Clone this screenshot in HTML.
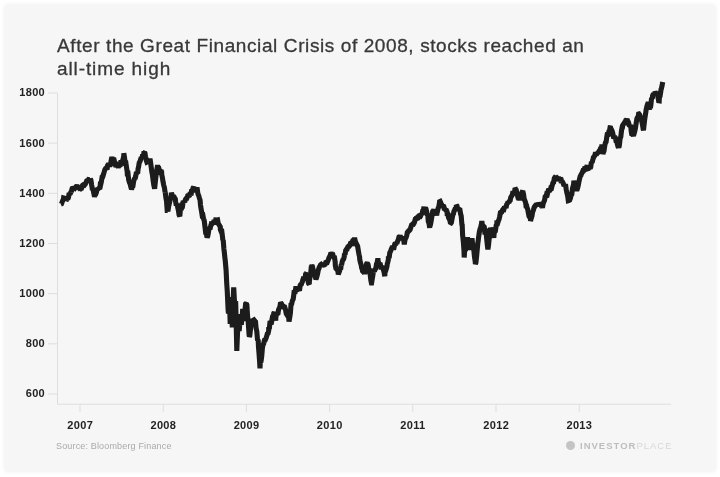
<!DOCTYPE html>
<html><head><meta charset="utf-8">
<style>
html,body{margin:0;padding:0;background:#fff;}
body{width:720px;height:477px;overflow:hidden;position:relative;font-family:"Liberation Sans",sans-serif;}
.blur{position:absolute;left:0;top:0;width:720px;height:477px;filter:blur(0.45px);}
.card{position:absolute;left:2.7px;top:3.4px;width:714.7px;height:469.8px;background:#f6f6f6;border-radius:6px;filter:blur(0.8px);}
.title{position:absolute;left:57px;top:33.6px;width:600px;font-size:19px;line-height:23.4px;color:#383838;-webkit-text-stroke:0.3px #383838;letter-spacing:0.6px;white-space:nowrap;}
.yl{position:absolute;left:0;width:45px;text-align:right;font-weight:bold;font-size:11px;line-height:12px;color:#222;letter-spacing:0.3px;}
.xl{position:absolute;width:40px;text-align:center;font-weight:bold;font-size:11px;line-height:12px;color:#222;top:419px;letter-spacing:0.35px;text-indent:0.35px;}
.src{position:absolute;left:56px;top:440.5px;font-size:9px;line-height:11px;color:#aaa;white-space:nowrap;letter-spacing:0.16px;}
.logo{position:absolute;left:580px;top:440.2px;font-size:9.5px;line-height:12px;font-weight:bold;color:#bdbdbd;letter-spacing:1.0px;white-space:nowrap;}
.logo span{font-weight:normal;color:#d8d8d8;}
.dot{position:absolute;left:565.5px;top:441.1px;width:9px;height:9px;border-radius:50%;background:#c4c4c4;}
svg{position:absolute;left:0;top:0;}
</style></head><body>
<div class="card"></div>
<div class="blur">
<div class="title">After the Great Financial Crisis of 2008, stocks reached an<br><span style="letter-spacing:0.9px">all-time high</span></div>
<svg width="720" height="477" viewBox="0 0 720 477">
<g stroke="#dedede" stroke-width="1" fill="none">
<path d="M57.5,92.7 V404.2 H671"/>
<path d="M48,93.0 H57"/>
<path d="M48,143.1 H57"/>
<path d="M48,193.3 H57"/>
<path d="M48,243.5 H57"/>
<path d="M48,293.6 H57"/>
<path d="M48,343.8 H57"/>
<path d="M48,394.0 H57"/>
<path d="M80.0,404 V412"/>
<path d="M163.2,404 V412"/>
<path d="M246.4,404 V412"/>
<path d="M329.6,404 V412"/>
<path d="M412.8,404 V412"/>
<path d="M496.0,404 V412"/>
<path d="M579.2,404 V412"/>
</g>
<path d="M60.8,204.1 L61.5,203.8 L62.2,201.8 L62.9,200.1 L63.4,199.6 L63.6,198.0 L64.3,198.2 L65.0,199.8 L65.7,199.1 L65.9,197.9 L66.4,200.0 L67.1,199.5 L67.6,198.7 L67.8,199.2 L68.5,197.3 L69.2,193.0 L69.9,194.1 L70.6,193.0 L71.0,191.2 L71.3,192.1 L72.0,188.8 L72.7,187.4 L73.4,188.0 L73.5,190.3 L74.1,188.0 L74.8,188.4 L75.5,187.4 L76.2,187.2 L76.5,186.1 L76.9,185.6 L77.6,186.7 L78.3,187.4 L79.0,186.3 L79.7,189.5 L80.4,189.1 L81.0,187.8 L81.1,189.9 L81.8,186.9 L82.5,185.3 L83.2,184.8 L83.9,184.5 L84.6,185.0 L85.3,184.2 L86.0,182.5 L86.1,182.8 L86.7,180.8 L87.4,180.3 L88.1,182.2 L88.8,179.6 L89.5,179.7 L90.2,179.6 L90.3,178.9 L90.9,180.0 L91.6,184.7 L92.3,188.7 L92.3,190.3 L93.0,189.1 L93.7,192.7 L94.4,196.0 L94.5,197.0 L95.1,194.1 L95.8,194.0 L96.5,192.0 L97.2,188.1 L97.8,188.7 L97.9,189.0 L98.6,188.5 L99.3,187.9 L100.0,187.6 L100.3,184.5 L100.7,184.6 L101.4,181.6 L102.1,177.1 L102.8,176.8 L103.5,173.5 L103.7,173.6 L104.2,171.9 L104.9,169.6 L105.6,168.4 L106.3,167.9 L107.0,169.6 L107.7,164.7 L107.9,166.8 L108.4,163.2 L109.1,164.5 L109.8,166.0 L110.5,164.8 L111.2,160.2 L111.9,157.1 L112.6,159.5 L112.9,160.1 L113.3,159.2 L114.0,159.4 L114.7,162.9 L115.4,164.9 L116.1,164.8 L116.8,165.5 L117.1,165.2 L117.5,165.8 L118.2,167.2 L118.9,166.1 L119.6,165.3 L120.3,165.0 L120.5,163.5 L121.0,160.3 L121.7,162.1 L122.4,161.1 L123.1,159.1 L123.8,155.9 L123.8,153.3 L124.5,157.3 L125.2,163.2 L125.9,163.1 L126.6,167.9 L127.2,171.9 L127.3,173.5 L128.0,173.4 L128.7,179.9 L129.4,182.3 L130.1,183.8 L130.8,186.9 L131.4,188.7 L131.5,189.6 L132.2,186.9 L132.9,186.2 L133.6,181.6 L134.3,179.0 L134.7,178.6 L135.0,179.1 L135.7,176.2 L136.4,172.3 L137.1,172.6 L137.8,172.1 L138.1,168.5 L138.5,167.4 L139.2,162.8 L139.9,161.6 L140.6,159.7 L141.3,157.3 L141.4,157.6 L142.0,158.6 L142.7,154.4 L143.4,155.8 L144.1,151.5 L144.3,152.6 L144.8,152.3 L145.5,156.4 L146.2,160.0 L146.9,162.1 L147.5,161.8 L147.6,162.9 L148.3,161.4 L149.0,160.3 L149.7,160.0 L150.0,158.5 L150.4,161.2 L151.1,166.3 L151.8,171.5 L152.5,175.4 L153.2,181.1 L153.9,185.7 L154.3,187.0 L154.6,188.7 L155.3,182.2 L156.0,175.7 L156.7,170.5 L157.4,166.3 L157.6,165.2 L158.1,167.8 L158.8,168.0 L159.5,170.3 L160.2,174.5 L160.9,170.1 L161.6,171.9 L161.8,175.2 L162.3,177.1 L163.0,181.6 L163.7,185.1 L164.4,187.5 L165.1,192.4 L165.2,192.0 L165.8,197.2 L166.5,201.1 L167.2,210.5 L167.7,210.5 L167.9,211.5 L168.6,206.6 L169.3,203.7 L170.0,200.6 L170.7,198.0 L171.0,197.0 L171.4,192.7 L172.1,194.9 L172.8,198.2 L173.5,196.0 L174.2,197.0 L174.9,199.1 L175.2,197.9 L175.6,201.4 L176.3,205.5 L177.0,203.8 L177.7,207.2 L178.4,210.4 L179.1,214.9 L179.4,215.5 L179.8,216.2 L180.5,208.4 L181.2,210.2 L181.9,205.4 L182.6,205.6 L183.3,200.8 L183.6,202.1 L184.0,201.0 L184.7,202.1 L185.4,199.6 L186.1,198.5 L186.8,198.4 L187.5,196.6 L187.8,195.4 L188.2,194.9 L188.9,196.3 L189.6,195.4 L190.3,192.3 L191.0,195.4 L191.7,189.6 L192.4,190.2 L193.1,187.9 L193.7,187.0 L193.8,187.4 L194.5,189.5 L195.2,190.2 L195.9,191.8 L196.6,189.6 L197.3,189.6 L197.9,193.7 L198.0,194.0 L198.7,195.6 L199.4,198.0 L200.1,200.2 L200.5,205.0 L200.8,207.3 L201.5,211.0 L202.2,215.5 L202.9,215.3 L203.5,218.5 L203.6,218.9 L204.3,220.9 L205.0,227.1 L205.7,233.0 L206.4,233.5 L206.8,236.1 L207.1,237.6 L207.8,235.9 L208.5,232.2 L209.2,226.9 L209.9,229.3 L210.6,226.5 L211.0,225.2 L211.3,223.9 L212.0,224.0 L212.7,223.4 L213.4,224.3 L214.1,219.9 L214.8,221.1 L215.5,221.4 L216.1,217.6 L216.2,221.2 L216.9,220.2 L217.6,220.0 L218.3,223.7 L219.0,224.6 L219.7,225.9 L220.3,226.8 L220.4,229.8 L221.1,231.5 L221.8,231.4 L222.5,236.8 L222.8,240.3 L223.2,239.9 L223.9,249.0 L224.5,253.7 L224.6,255.3 L225.3,261.3 L226.0,269.2 L226.1,270.5 L226.7,283.0 L227.3,291.8 L227.4,294.5 L228.1,309.9 L228.5,313.6 L228.8,309.2 L229.4,297.0 L229.5,302.7 L230.2,323.9 L230.3,322.0 L230.9,312.9 L231.2,300.0 L231.6,310.3 L232.2,325.0 L232.3,325.0 L233.0,303.2 L233.7,287.3 L233.8,289.0 L234.4,300.2 L234.8,318.0 L235.1,312.1 L235.6,301.0 L235.8,306.5 L236.5,337.5 L236.8,351.0 L237.2,340.7 L237.9,324.7 L238.2,318.0 L238.6,321.6 L239.2,331.0 L239.3,329.3 L240.0,321.8 L240.2,314.0 L240.7,319.4 L241.4,324.9 L241.4,323.0 L242.1,318.6 L242.7,309.0 L242.8,310.6 L243.5,314.1 L243.9,321.0 L244.2,315.6 L244.9,312.8 L245.2,308.0 L245.6,303.9 L246.3,303.4 L246.9,305.0 L247.0,307.8 L247.7,317.6 L248.0,319.0 L248.4,324.9 L249.1,335.0 L249.4,336.5 L249.8,335.8 L250.5,328.9 L251.2,323.4 L251.9,321.6 L252.6,322.7 L252.8,320.6 L253.3,320.4 L254.0,319.9 L254.7,320.8 L255.3,324.5 L255.4,320.5 L256.1,328.2 L256.8,331.5 L257.5,339.6 L258.2,340.6 L258.5,347.0 L258.9,351.8 L259.6,361.2 L260.0,368.3 L260.3,362.3 L261.0,361.5 L261.7,356.4 L262.4,348.1 L263.1,344.6 L263.7,343.6 L263.8,342.8 L264.5,340.2 L265.2,340.1 L265.9,338.6 L266.6,336.6 L267.3,333.9 L268.0,333.4 L268.7,330.7 L268.7,328.5 L269.4,327.9 L270.1,321.1 L270.8,322.6 L271.5,322.5 L272.2,318.3 L272.9,315.1 L273.6,316.9 L273.7,313.4 L274.3,312.2 L275.0,315.4 L275.7,320.6 L275.9,316.5 L276.4,314.9 L277.1,314.2 L277.8,314.7 L278.5,310.0 L279.2,308.3 L279.9,306.9 L280.4,303.4 L280.6,302.6 L281.3,303.5 L282.0,304.7 L282.7,306.4 L283.0,305.0 L283.4,306.4 L284.1,307.4 L284.8,307.4 L285.5,309.6 L286.2,313.6 L286.9,314.7 L287.6,314.5 L288.3,315.5 L288.8,318.6 L289.0,321.7 L289.7,317.5 L290.4,312.9 L291.1,303.2 L291.5,305.0 L291.8,303.2 L292.5,300.4 L293.2,299.1 L293.9,293.9 L294.2,290.4 L294.6,290.8 L295.3,291.0 L296.0,286.5 L296.7,290.0 L297.4,289.7 L297.6,288.8 L298.1,287.3 L298.8,289.6 L299.5,290.8 L300.2,285.2 L300.9,284.2 L300.9,285.4 L301.6,283.5 L302.3,281.9 L303.0,279.3 L303.4,278.7 L303.7,276.6 L304.4,279.1 L305.1,277.6 L305.8,273.0 L305.9,273.7 L306.5,273.0 L307.2,278.5 L307.9,280.5 L308.6,283.5 L309.3,284.3 L309.3,282.0 L310.0,277.1 L310.7,273.3 L311.4,265.7 L311.8,266.1 L312.1,264.9 L312.8,268.3 L313.5,271.6 L314.2,272.4 L314.9,274.9 L315.6,278.0 L316.0,278.7 L316.3,278.3 L317.0,276.1 L317.7,273.1 L318.4,269.6 L319.1,268.2 L319.4,266.1 L319.8,266.4 L320.5,264.8 L321.2,264.3 L321.9,264.9 L322.6,264.9 L323.3,265.1 L324.0,264.8 L324.7,264.8 L325.2,264.4 L325.4,263.9 L326.1,261.0 L326.8,261.5 L327.5,261.8 L328.2,260.2 L328.9,257.9 L329.4,256.9 L329.6,257.4 L330.3,255.1 L331.0,252.7 L331.7,254.2 L332.4,253.0 L332.8,254.4 L333.1,256.2 L333.8,257.4 L334.5,257.6 L335.2,261.9 L335.3,265.3 L335.9,268.3 L336.6,269.2 L337.3,269.5 L338.0,271.8 L338.3,274.5 L338.7,273.2 L339.4,271.4 L340.1,268.7 L340.8,268.1 L341.2,264.4 L341.5,265.2 L342.2,261.7 L342.9,259.8 L343.6,259.2 L344.3,256.5 L344.5,253.5 L345.0,254.8 L345.7,250.4 L346.4,249.3 L347.1,249.2 L347.8,246.9 L347.9,246.8 L348.5,247.4 L349.2,246.2 L349.9,245.5 L350.6,243.0 L351.2,241.8 L351.3,245.4 L352.0,243.8 L352.7,240.7 L353.4,239.5 L354.1,242.0 L354.6,237.6 L354.8,239.0 L355.5,241.8 L356.2,244.3 L356.9,245.2 L357.1,245.1 L357.6,246.1 L358.3,250.5 L359.0,254.5 L359.6,256.9 L359.7,259.1 L360.4,262.7 L361.1,264.7 L361.8,268.9 L362.1,268.6 L362.5,270.9 L363.2,271.6 L363.9,272.5 L364.6,273.2 L364.7,273.7 L365.3,272.1 L366.0,266.6 L366.7,263.4 L367.2,262.8 L367.4,263.2 L368.1,264.5 L368.8,268.8 L369.5,269.8 L370.2,274.6 L370.9,280.6 L371.4,282.9 L371.6,282.9 L372.3,278.6 L373.0,274.5 L373.7,268.8 L373.9,270.3 L374.4,271.4 L375.1,269.3 L375.8,268.6 L376.5,264.0 L377.2,262.5 L377.9,258.3 L378.1,261.1 L378.6,262.4 L379.3,265.5 L380.0,262.8 L380.7,266.0 L381.4,269.3 L381.4,268.6 L382.1,267.4 L382.8,267.7 L383.5,270.1 L384.2,272.7 L384.8,276.2 L384.9,272.6 L385.6,271.1 L386.3,268.7 L387.0,266.2 L387.3,263.6 L387.7,262.5 L388.4,259.4 L388.4,256.3 L389.1,258.1 L389.8,252.6 L390.5,251.5 L391.2,249.4 L391.9,247.8 L392.6,247.8 L392.6,248.7 L393.3,247.6 L394.0,247.6 L394.7,244.2 L395.4,242.9 L396.1,243.6 L396.8,243.1 L396.8,243.7 L397.5,241.3 L398.2,239.8 L398.9,237.2 L399.6,237.1 L400.1,235.3 L400.3,236.4 L401.0,237.4 L401.7,237.9 L402.4,239.8 L403.1,237.9 L403.8,240.6 L404.3,244.5 L404.5,242.8 L405.2,238.8 L405.9,238.0 L406.6,236.0 L406.8,235.3 L407.3,232.4 L408.0,231.9 L408.7,230.7 L409.4,230.5 L410.1,229.7 L410.8,227.6 L411.0,226.9 L411.5,225.1 L412.2,224.6 L412.9,223.8 L413.6,224.0 L414.3,222.8 L415.0,220.3 L415.7,217.8 L416.1,219.4 L416.4,218.0 L417.1,217.6 L417.8,216.9 L418.5,217.9 L419.2,217.6 L419.4,218.5 L419.9,217.0 L420.6,216.1 L421.3,213.3 L422.0,215.0 L422.7,210.8 L423.4,210.1 L424.0,206.8 L424.1,207.8 L424.8,210.4 L425.5,207.4 L426.2,209.7 L426.9,212.9 L427.6,215.5 L427.8,215.2 L428.3,221.5 L429.0,223.4 L429.7,227.9 L429.8,226.1 L430.4,224.9 L431.1,221.4 L431.8,217.2 L432.5,212.4 L432.9,210.1 L433.2,211.1 L433.9,209.5 L434.6,212.4 L435.3,210.6 L436.0,212.1 L436.7,215.5 L437.0,212.7 L437.4,211.7 L438.1,208.3 L438.8,206.8 L439.5,202.8 L439.6,201.7 L440.2,201.4 L440.9,203.0 L441.6,204.5 L442.3,205.7 L443.0,204.5 L443.7,208.0 L443.8,205.9 L444.4,210.1 L445.1,209.3 L445.8,210.2 L446.5,210.4 L447.1,211.8 L447.2,214.0 L447.9,214.2 L448.6,217.8 L449.3,219.1 L450.0,220.8 L450.5,223.6 L450.7,223.5 L451.4,222.5 L452.1,218.6 L452.8,214.7 L453.5,213.8 L453.8,211.8 L454.2,211.0 L454.9,209.4 L455.6,209.3 L456.3,207.5 L456.3,205.1 L457.0,205.9 L457.7,209.7 L458.4,208.3 L459.1,209.4 L459.7,208.5 L459.8,208.8 L460.5,213.6 L461.2,215.9 L461.9,224.6 L462.2,225.0 L462.6,235.1 L463.3,241.6 L464.0,250.7 L464.2,257.5 L464.7,249.8 L465.4,250.9 L466.1,245.1 L466.8,241.1 L467.4,237.8 L467.5,237.5 L468.2,241.3 L468.9,243.0 L469.6,248.2 L469.8,250.0 L470.3,244.1 L471.0,242.3 L471.7,240.1 L472.0,238.3 L472.4,242.4 L473.1,246.5 L473.8,250.0 L474.5,256.9 L475.2,261.4 L475.4,264.0 L475.9,262.7 L476.6,256.6 L477.3,248.8 L478.0,241.6 L478.1,241.5 L478.7,236.5 L479.4,231.8 L480.1,228.9 L480.8,226.7 L481.5,223.8 L481.8,221.1 L482.2,223.6 L482.9,228.5 L483.6,225.6 L484.3,227.0 L485.0,234.4 L485.4,229.5 L485.7,230.1 L486.4,235.7 L487.1,242.8 L487.8,248.8 L487.9,249.4 L488.5,245.4 L489.2,238.6 L489.9,233.8 L490.6,227.8 L490.6,227.4 L491.3,231.4 L492.0,228.7 L492.7,231.3 L493.4,235.5 L493.8,237.9 L494.1,234.0 L494.8,230.1 L495.5,230.1 L496.2,225.3 L496.9,224.1 L496.9,223.2 L497.6,223.3 L498.3,221.0 L499.0,219.4 L499.7,216.5 L500.4,212.5 L501.1,212.0 L501.1,212.7 L501.8,212.0 L502.5,210.0 L503.2,209.2 L503.9,209.4 L504.6,206.5 L505.3,207.0 L505.3,206.4 L506.0,208.1 L506.7,204.4 L507.4,203.4 L508.1,201.9 L508.8,203.0 L509.5,201.0 L510.2,200.4 L510.6,198.1 L510.9,197.2 L511.6,196.1 L512.3,194.9 L513.0,191.2 L513.7,193.6 L514.4,192.8 L515.1,188.0 L515.8,189.0 L515.8,188.6 L516.5,191.2 L517.2,194.5 L517.9,197.2 L518.6,197.2 L518.9,200.2 L519.3,198.5 L520.0,200.0 L520.7,196.8 L521.4,194.3 L522.1,192.1 L522.8,190.8 L523.1,192.8 L523.5,193.8 L524.2,199.0 L524.9,200.7 L525.6,202.7 L526.3,207.8 L526.3,204.4 L527.0,207.7 L527.7,209.2 L528.4,213.2 L529.1,216.5 L529.8,217.2 L530.5,219.1 L530.5,221.1 L531.2,218.3 L531.9,216.4 L532.6,212.0 L533.3,210.4 L534.0,207.8 L534.7,206.7 L534.7,206.4 L535.4,205.6 L536.1,204.9 L536.8,203.8 L537.5,205.0 L538.2,205.4 L538.9,202.6 L538.9,202.3 L539.6,204.5 L540.3,203.5 L541.0,205.0 L541.7,207.0 L542.0,206.4 L542.4,207.9 L543.1,204.0 L543.8,202.0 L544.5,200.5 L545.2,196.5 L545.9,196.1 L546.2,196.0 L546.6,194.2 L547.3,194.5 L548.0,191.7 L548.7,188.9 L549.4,190.1 L550.1,190.1 L550.4,189.7 L550.8,188.0 L551.5,188.1 L552.2,185.4 L552.9,182.9 L553.6,182.5 L554.3,178.4 L555.0,177.1 L555.7,176.5 L555.7,177.1 L556.4,178.4 L557.1,177.8 L557.8,178.4 L558.5,177.5 L559.2,178.6 L559.9,181.2 L560.6,178.9 L561.0,179.2 L561.3,183.0 L562.0,181.2 L562.7,182.3 L563.4,183.7 L564.1,186.1 L564.8,184.6 L565.2,186.5 L565.5,184.1 L566.2,189.4 L566.9,193.0 L567.6,195.5 L568.3,200.7 L569.0,200.5 L569.4,200.1 L569.7,200.0 L570.4,198.2 L571.1,195.1 L571.8,194.3 L572.5,188.3 L573.2,185.8 L573.5,185.5 L573.9,180.6 L574.6,185.4 L575.3,185.6 L576.0,187.8 L576.7,190.5 L577.4,188.6 L577.7,187.6 L578.1,186.1 L578.8,182.6 L579.5,179.1 L580.2,176.4 L580.9,175.4 L580.9,175.0 L581.6,173.8 L582.3,172.4 L583.0,170.6 L583.7,170.6 L584.4,169.1 L585.1,166.8 L585.1,166.6 L585.8,167.7 L586.5,167.0 L587.2,165.5 L587.9,168.7 L588.6,168.5 L589.3,166.6 L590.0,168.8 L590.3,167.7 L590.7,167.2 L591.4,161.8 L592.1,162.8 L592.8,159.7 L593.5,157.7 L593.5,156.1 L594.2,156.4 L594.9,155.2 L595.6,152.4 L596.3,154.6 L597.0,153.8 L597.7,152.7 L597.7,153.0 L598.4,152.3 L599.1,151.1 L599.8,150.8 L600.5,148.5 L601.2,147.5 L601.8,146.7 L601.9,144.3 L602.6,150.3 L602.9,154.0 L603.3,152.6 L604.0,151.1 L604.7,146.1 L605.4,142.7 L606.1,141.9 L606.8,136.9 L607.1,135.2 L607.5,135.3 L608.2,135.0 L608.9,131.3 L609.6,130.5 L610.2,126.8 L610.3,126.7 L611.0,128.7 L611.7,130.0 L612.4,131.8 L613.1,134.8 L613.8,138.6 L614.4,136.0 L614.5,136.7 L615.2,137.5 L615.9,140.5 L616.6,140.5 L617.3,143.9 L618.0,146.5 L618.7,147.4 L618.8,147.7 L619.4,145.1 L620.1,138.5 L620.8,136.9 L621.5,130.6 L622.2,127.0 L622.5,127.0 L622.9,124.9 L623.6,123.9 L624.3,124.4 L625.0,122.7 L625.7,120.5 L626.4,120.3 L627.0,118.5 L627.1,121.1 L627.8,121.0 L628.5,122.4 L629.2,125.1 L629.9,125.6 L630.5,125.8 L630.6,124.7 L631.3,131.8 L632.0,135.5 L632.7,132.6 L633.4,136.5 L633.4,136.0 L634.1,133.5 L634.8,131.1 L635.5,127.7 L636.2,122.9 L636.4,121.8 L636.9,118.6 L637.6,117.2 L638.3,116.4 L638.6,114.0 L639.0,113.9 L639.7,114.8 L640.4,117.6 L641.1,119.9 L641.1,116.9 L641.8,121.5 L642.5,124.8 L643.2,129.2 L643.5,130.2 L643.9,126.2 L644.6,120.2 L645.3,115.4 L646.0,111.1 L646.0,110.6 L646.7,107.0 L647.4,104.7 L648.1,103.0 L648.2,101.6 L648.8,105.4 L649.5,108.6 L650.2,107.6 L650.4,108.2 L650.9,104.8 L651.6,97.7 L652.3,98.8 L652.6,95.7 L653.0,94.8 L653.7,94.5 L654.4,94.9 L655.1,91.9 L655.8,93.1 L656.2,92.7 L656.5,93.5 L657.2,92.8 L657.9,96.8 L658.6,100.7 L659.2,100.8 L659.3,98.1 L660.0,96.3 L660.7,92.0 L661.1,89.1 L661.4,88.6 L662.1,85.6 L662.7,82.0" fill="none" stroke="#1c1c1c" stroke-width="5.1" stroke-linejoin="miter" stroke-miterlimit="1.6" stroke-linecap="butt"/>
</svg>
<div class="yl" style="top:86.4px">1800</div>
<div class="yl" style="top:136.5px">1600</div>
<div class="yl" style="top:186.7px">1400</div>
<div class="yl" style="top:236.9px">1200</div>
<div class="yl" style="top:287.0px">1000</div>
<div class="yl" style="top:337.2px">800</div>
<div class="yl" style="top:387.4px">600</div>
<div class="xl" style="left:60.0px">2007</div>
<div class="xl" style="left:143.2px">2008</div>
<div class="xl" style="left:226.4px">2009</div>
<div class="xl" style="left:309.6px">2010</div>
<div class="xl" style="left:392.8px">2011</div>
<div class="xl" style="left:476.0px">2012</div>
<div class="xl" style="left:559.2px">2013</div>
<div class="src">Source: Bloomberg Finance</div>
<div class="dot"></div>
<div class="logo">INVESTOR<span>PLACE</span></div>
</div>
</body></html>
